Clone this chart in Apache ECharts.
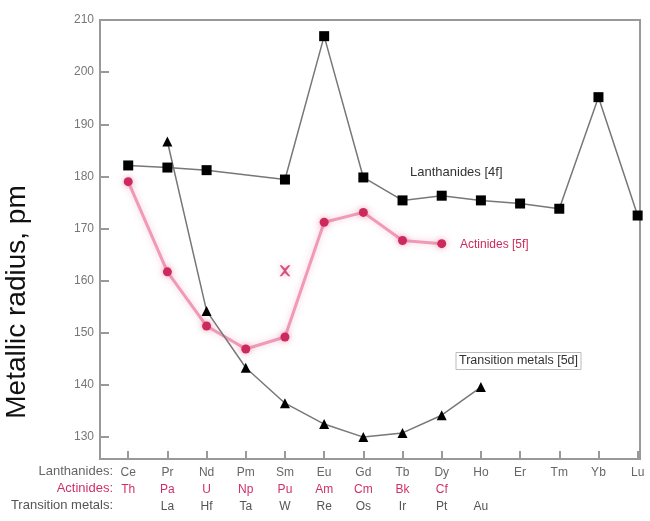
<!DOCTYPE html>
<html>
<head>
<meta charset="utf-8">
<script src="https://cdn.jsdelivr.net/npm/echarts@6/dist/echarts.min.js"></script>
<style>
  html, body { margin: 0; padding: 0; background: #fff; }
  #chart { width: 650px; height: 521px; }
</style>
</head>
<body>
<div id="chart"></div>
<script>
// Element symbols per column, one row for each series
const lanthanideNames = ['Ce', 'Pr', 'Nd', 'Pm', 'Sm', 'Eu', 'Gd', 'Tb', 'Dy', 'Ho', 'Er', 'Tm', 'Yb', 'Lu'];
const actinideNames   = ['Th', 'Pa', 'U', 'Np', 'Pu', 'Am', 'Cm', 'Bk', 'Cf', '', '', '', '', ''];
const transitionNames = ['', 'La', 'Hf', 'Ta', 'W', 'Re', 'Os', 'Ir', 'Pt', 'Au', '', '', '', ''];

// Metallic radii, pm (null = no value)
const lanthanideRadii = [182.1, 181.7, 181.2, null, 179.4, 206.9, 179.8, 175.4, 176.3, 175.4, 174.8, 173.8, 195.2, 172.5];
const actinideRadii   = [179.0, 161.7, 151.3, 146.9, 149.2, 171.2, 173.1, 167.7, 167.1, null, null, null, null, null];
const transitionRadii = [null, 186.7, 154.2, 143.3, 136.5, 132.5, 130.0, 130.8, 134.2, 139.6, null, null, null, null];
// Second plutonium value (column 4)
const plutoniumAlt = [[4, 161.9]];

const yTicks = [130, 140, 150, 160, 170, 180, 190, 200, 210];
const columns = lanthanideNames.map((_, i) => i);

function toPairs(values) {
  const out = [];
  values.forEach((v, i) => { if (v !== null) out.push([i, v]); });
  return out;
}

const chart = echarts.init(document.getElementById('chart'));
const font = 'Liberation Sans, Arial, sans-serif';

chart.setOption({
  animation: false,
  backgroundColor: '#fff',
  grid: {
    left: 100, right: 10, top: 20, bottom: 62,
    show: true, borderColor: '#999', borderWidth: 2
  },
  xAxis: {
    type: 'value',
    min: -0.72, max: 13.06,
    splitLine: { show: false },
    axisLine: { onZero: false, lineStyle: { color: '#999', width: 2 } },
    axisTick: { inside: true, length: 8, customValues: columns, lineStyle: { color: '#999', width: 2 } },
    axisLabel: {
      customValues: columns,
      margin: 5,
      fontFamily: font,
      formatter: function (v) {
        const i = Math.round(v);
        const a = lanthanideNames[i] || '\u00a0';
        const b = actinideNames[i] || '\u00a0';
        const c = transitionNames[i] || '\u00a0';
        return '{l|' + a + '}\n{a|' + b + '}\n{t|' + c + '}';
      },
      rich: {
        l: { color: '#666', fontSize: 12, lineHeight: 17, fontFamily: font },
        a: { color: '#d0306a', fontSize: 12, lineHeight: 17, fontFamily: font },
        t: { color: '#555', fontSize: 12, lineHeight: 17, fontFamily: font }
      }
    }
  },
  yAxis: {
    type: 'value',
    min: 125.8, max: 210,
    splitLine: { show: false },
    axisLine: { onZero: false, lineStyle: { color: '#999', width: 2 } },
    axisTick: { inside: true, length: 9, customValues: yTicks, lineStyle: { color: '#999', width: 2 } },
    axisLabel: {
      customValues: yTicks,
      color: '#777', fontSize: 12, margin: 6, fontFamily: font
    }
  },
  series: [
    {
      name: 'Lanthanides [4f]',
      type: 'line',
      data: toPairs(lanthanideRadii),
      symbol: 'rect', symbolSize: 10,
      itemStyle: { color: '#000' },
      lineStyle: { color: '#777', width: 1.5 },
      z: 3
    },
    {
      name: 'Actinides [5f]',
      type: 'line',
      data: toPairs(actinideRadii),
      symbol: 'circle', symbolSize: 9,
      itemStyle: { color: '#cc2a5c', shadowColor: 'rgba(230,80,130,0.5)', shadowBlur: 6 },
      lineStyle: { color: '#ee9ab8', width: 3, shadowColor: 'rgba(240,150,180,0.5)', shadowBlur: 6 },
      z: 2
    },
    {
      name: 'Pu (alt)',
      type: 'scatter',
      data: plutoniumAlt,
      symbol: 'path://M0,0 L2,0 L5,3 L8,0 L10,0 L6,5 L10,10 L8,10 L5,7 L2,10 L0,10 L4,5 Z',
      symbolSize: 11,
      itemStyle: { color: '#cc2a5c', shadowColor: 'rgba(230,80,130,0.5)', shadowBlur: 6 },
      z: 2
    },
    {
      name: 'Transition metals [5d]',
      type: 'line',
      data: toPairs(transitionRadii),
      symbol: 'triangle', symbolSize: 10,
      itemStyle: { color: '#000' },
      lineStyle: { color: '#777', width: 1.5 },
      z: 3
    }
  ],
  graphic: [
    {
      type: 'text', x: 17, y: 302, rotation: Math.PI / 2,
      style: { text: 'Metallic radius, pm', fill: '#111', fontSize: 28, fontFamily: font,
               align: 'center', verticalAlign: 'middle' }
    },
    {
      type: 'text', x: 113, y: 471,
      style: { text: 'Lanthanides:', fill: '#666', fontSize: 13, fontFamily: font, align: 'right', verticalAlign: 'middle' }
    },
    {
      type: 'text', x: 113, y: 488,
      style: { text: 'Actinides:', fill: '#d0306a', fontSize: 13, fontFamily: font, align: 'right', verticalAlign: 'middle' }
    },
    {
      type: 'text', x: 113, y: 505,
      style: { text: 'Transition metals:', fill: '#555', fontSize: 13, fontFamily: font, align: 'right', verticalAlign: 'middle' }
    },
    {
      type: 'text', x: 410, y: 172,
      style: { text: 'Lanthanides [4f]', fill: '#333', fontSize: 13, fontFamily: font, verticalAlign: 'middle' }
    },
    {
      type: 'text', x: 460, y: 245,
      style: { text: 'Actinides [5f]', fill: '#cc2a5c', fontSize: 12, fontFamily: font, verticalAlign: 'middle' }
    },
    {
      type: 'text', x: 456, y: 361,
      style: { text: 'Transition metals [5d]', fill: '#333', fontSize: 12.5, fontFamily: font, verticalAlign: 'middle',
               borderColor: '#bbb', borderWidth: 1, padding: [2, 3] }
    }
  ]
});
</script>
</body>
</html>
